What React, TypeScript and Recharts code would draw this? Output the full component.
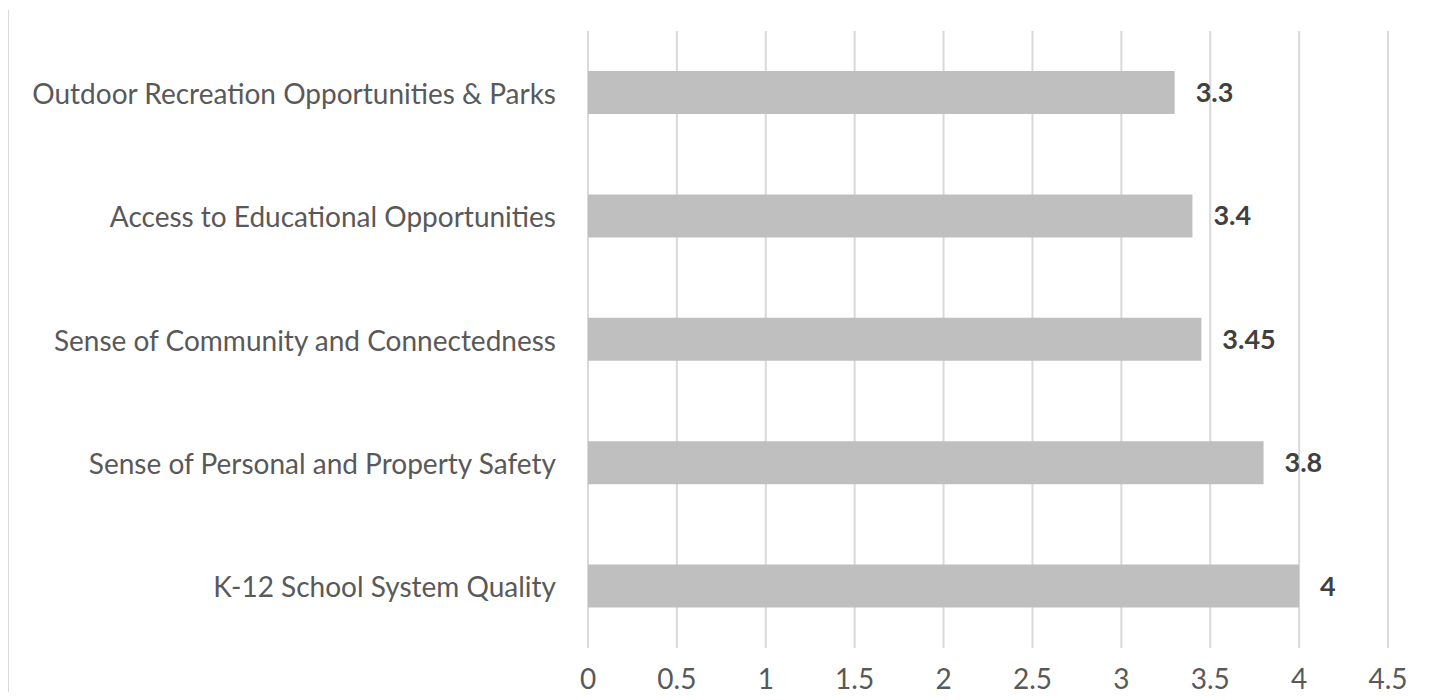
import React from 'react';
import { BarChart, Bar, XAxis, YAxis, CartesianGrid, LabelList } from 'recharts';

const categories = [
  'Outdoor Recreation Opportunities & Parks',
  'Access to Educational Opportunities',
  'Sense of Community and Connectedness',
  'Sense of Personal and Property Safety',
  'K-12 School System Quality',
];
const scores = [3.3, 3.4, 3.45, 3.8, 4];
const xTicks = [0, 0.5, 1, 1.5, 2, 2.5, 3, 3.5, 4, 4.5];

const data = categories.map((name, i) => ({ name, score: scores[i] }));

const FONT = 'Lato, "Open Sans", sans-serif';

const CategoryTick = (props: any) => {
  const { x, y, payload } = props;
  return (
    <text x={x - 24} y={y} textAnchor="end" dominantBaseline="central" fill="#595959" fontSize={28} fontFamily={FONT}>
      {payload.value}
    </text>
  );
};

const ValueTick = (props: any) => {
  const { x, y, payload } = props;
  return (
    <text x={x} y={y + 22} textAnchor="middle" dominantBaseline="central" fill="#595959" fontSize={28} fontFamily={FONT}>
      {payload.value}
    </text>
  );
};

const App: React.FC = () => {
  return (
    <div style={{ margin: -8, width: 1449, height: 700, position: 'relative', background: '#fff', overflow: 'hidden' }}>
      <div style={{ position: 'absolute', left: 7, top: 10, bottom: 0, width: 2, background: '#d9d9d9' }} />
      <div style={{ position: 'absolute', left: 1443, top: 10, bottom: 0, width: 2, background: '#d9d9d9' }} />
      <BarChart
        width={1449}
        height={700}
        data={data}
        layout="vertical"
        margin={{ top: 31, right: 61, bottom: 0, left: 0 }}
        barSize={43}
      >
        <CartesianGrid horizontal={false} stroke="#d9d9d9" strokeWidth={2} />
        <XAxis
          type="number"
          domain={[0, 4.5]}
          ticks={xTicks}
          axisLine={false}
          tickLine={false}
          height={52}
          tick={<ValueTick />}
          interval={0}
        />
        <YAxis
          type="category"
          dataKey="name"
          width={588}
          axisLine={false}
          tickLine={false}
          tick={<CategoryTick />}
          interval={0}
        />
        <Bar dataKey="score" fill="#bfbfbf" isAnimationActive={false}>
          <LabelList
            dataKey="score"
            position="right"
            offset={21}
            fill="#404040"
            fontSize={27}
            fontWeight="bold"
            fontFamily={FONT}
          />
        </Bar>
      </BarChart>
    </div>
  );
};

export default App;
